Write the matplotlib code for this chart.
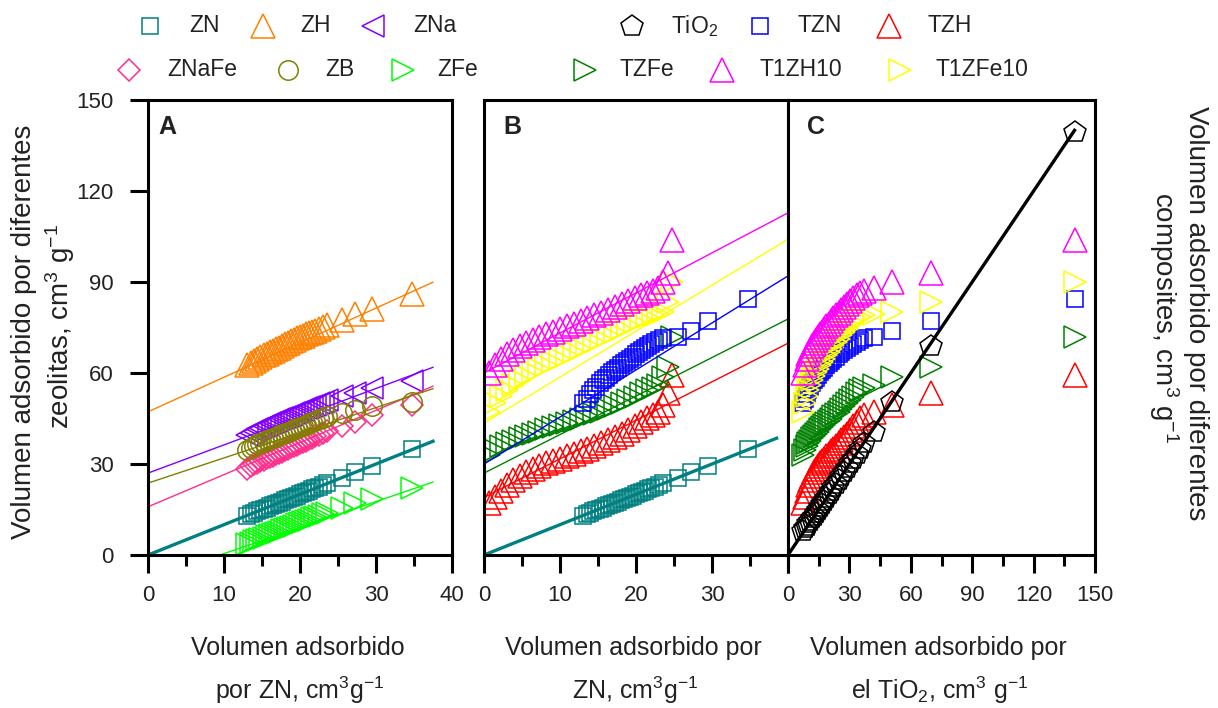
import numpy as np
import matplotlib.pyplot as plt
from matplotlib.lines import Line2D
from matplotlib.ticker import MultipleLocator

plt.rcParams['font.family'] = ['Liberation Sans', 'DejaVu Sans']
plt.rcParams['mathtext.fontset'] = 'custom'
plt.rcParams['mathtext.rm'] = 'Liberation Sans'
plt.rcParams['mathtext.it'] = 'Liberation Sans:italic'
plt.rcParams['mathtext.bf'] = 'Liberation Sans:bold'

# --- panel A: zeolites vs ZN (cm3/g) ---
zn_vol = [13.0, 13.5, 14.0, 14.4, 14.8, 15.2, 15.6, 16.0, 16.4, 16.8,
          17.2, 17.6, 18.0, 18.4, 18.8, 19.2, 19.6, 20.0, 20.4, 20.8,
          21.2, 21.6, 22.0, 22.5, 23.0, 23.6, 25.5, 27.3, 29.5, 34.8]
zh = [62.5, 63.3, 64.1, 64.7, 65.3, 65.9, 66.4, 66.9, 67.4, 67.9,
      68.4, 68.9, 69.4, 69.9, 70.4, 70.9, 71.4, 71.8, 72.3, 72.7,
      73.2, 73.6, 74.0, 74.6, 75.1, 75.7, 77.5, 79.5, 81.0, 86.0]
zna = [39.5, 40.2, 40.9, 41.4, 41.9, 42.4, 42.9, 43.4, 43.8, 44.3,
       44.7, 45.1, 45.5, 45.9, 46.3, 46.7, 47.1, 47.5, 47.9, 48.3,
       48.7, 49.1, 49.5, 50.0, 50.5, 51.0, 52.5, 53.5, 55.0, 57.5]
znafe = [28.5, 29.2, 29.9, 30.4, 30.9, 31.4, 31.9, 32.3, 32.8, 33.2,
         33.7, 34.1, 34.6, 35.0, 35.5, 35.9, 36.4, 36.8, 37.3, 37.7,
         38.2, 38.6, 39.1, 39.6, 40.2, 40.8, 42.5, 44.0, 46.0, 49.5]
zb = [34.5, 35.3, 36.0, 36.5, 37.0, 37.4, 37.8, 38.2, 38.6, 39.0,
      39.4, 39.8, 40.2, 40.6, 41.0, 41.4, 41.8, 42.2, 42.6, 43.0,
      43.4, 43.8, 44.2, 44.7, 45.2, 45.7, 46.8, 47.8, 49.0, 50.5]
zfe = [3.5, 4.0, 4.5, 4.9, 5.3, 5.7, 6.1, 6.5, 6.9, 7.3,
       7.7, 8.1, 8.5, 8.9, 9.3, 9.7, 10.1, 10.5, 10.9, 11.3,
       11.7, 12.1, 12.5, 13.0, 13.5, 14.0, 15.5, 17.0, 18.5, 22.0]

# --- composites: ZN volume at the same pressures (panel B) and TiO2 (panel C) ---
zn_vol_b = [0.6, 1.4, 2.2, 3.0, 3.8, 4.7, 5.5, 6.4, 7.3, 8.2,
            9.1, 10.0, 10.9, 11.8, 12.7, 13.6, 14.5, 15.4, 16.3, 17.2,
            18.1, 19.0, 19.9, 20.7, 21.5, 22.2, 22.9, 23.6, 24.2, 24.8]
tio2_vol = [7.5, 8.3, 9.1, 9.9, 10.8, 11.7, 12.6, 13.5, 14.5, 15.5,
            16.5, 17.6, 18.7, 19.8, 21.0, 22.2, 23.4, 24.7, 26.0, 27.4,
            28.8, 30.3, 31.9, 33.6, 35.4, 37.3, 42.0, 51.0, 70.0, 140.0]
tio2 = [8.0, 8.8, 9.6, 10.4, 11.2, 12.1, 13.0, 13.9, 14.8, 15.8,
        16.8, 17.8, 18.9, 20.0, 21.1, 22.3, 23.5, 24.8, 26.1, 27.4,
        28.8, 30.2, 31.7, 33.3, 35.0, 36.8, 40.5, 50.4, 69.0, 139.5]
tzn = [50.0, 51.5, 53.0, 54.3, 55.5, 56.6, 57.6, 58.5, 59.4, 60.2,
       61.0, 61.8, 62.6, 63.3, 64.0, 64.7, 65.4, 66.1, 66.8, 67.5,
       68.2, 68.9, 69.6, 70.3, 71.0, 71.6, 72.0, 74.0, 77.0, 84.5]
tzh = [17.0, 19.0, 21.0, 23.0, 24.6, 26.0, 27.2, 28.3, 29.3, 30.2,
       31.0, 31.8, 32.6, 33.4, 34.2, 35.0, 35.9, 36.8, 37.8, 38.8,
       39.9, 41.1, 42.4, 43.8, 45.3, 46.2, 47.0, 49.5, 53.4, 59.5]
tzfe = [33.0, 34.6, 35.8, 36.8, 37.7, 38.5, 39.3, 40.0, 40.7, 41.4,
        42.1, 42.8, 43.5, 44.2, 44.9, 45.7, 46.5, 47.3, 48.2, 49.1,
        50.1, 51.1, 52.2, 53.3, 54.4, 55.2, 56.0, 58.7, 62.0, 72.0]
t1zh10 = [60.0, 62.5, 64.5, 66.2, 67.6, 68.8, 69.9, 70.9, 71.8, 72.7,
          73.6, 74.5, 75.4, 76.3, 77.2, 78.1, 79.0, 79.9, 80.8, 81.8,
          82.8, 83.8, 84.8, 85.8, 86.5, 87.0, 88.0, 90.0, 93.0, 104.0]
t1zfe10 = [47.0, 50.0, 52.5, 54.5, 56.2, 57.7, 59.0, 60.2, 61.4, 62.5,
           63.6, 64.7, 65.8, 66.9, 68.0, 69.1, 70.2, 71.3, 72.4, 73.5,
           74.6, 75.7, 76.8, 77.7, 78.4, 79.0, 79.5, 80.0, 83.5, 90.0]

# linear fits (slope, intercept) and the x span they cover
fit_a = {'ZN': (1.0, 0.0), 'ZH': (1.14, 47.2), 'ZNa': (0.93, 27.0),
         'ZNaFe': (1.06, 15.9), 'ZB': (0.83, 23.7), 'ZFe': (0.857, -8.1)}
fit_a_span = [0, 37.5]
fit_b = {'TZN': (1.55, 30.0), 'TZH': (1.27, 19.0), 'TZFe': (1.27, 27.0),
         'T1ZH10': (1.32, 60.0), 'T1ZFe10': (1.515, 43.5)}
fit_b_span = [0, 40]
fit_zn_span = [0, 38.5]
fit_c_span = [0, 140]

styles = {
    'ZN':      dict(color='#008080', marker='s', ms=12),
    'ZH':      dict(color='#FF8000', marker='^', ms=17),
    'ZNa':     dict(color='#8000FF', marker='<', ms=16),
    'ZNaFe':   dict(color='#FF2D8C', marker='D', ms=11),
    'ZB':      dict(color='#808000', marker='o', ms=14),
    'ZFe':     dict(color='#00FF00', marker='>', ms=16),
    'TiO2':    dict(color='black', marker='p', ms=16),
    'TZN':     dict(color='#0000FF', marker='s', ms=12),
    'TZH':     dict(color='#FF0000', marker='^', ms=17),
    'TZFe':    dict(color='#008000', marker='>', ms=16),
    'T1ZH10':  dict(color='#FF00FF', marker='^', ms=17),
    'T1ZFe10': dict(color='#FFFF00', marker='>', ms=16),
}

W, H = 1218, 708
fig = plt.figure(figsize=(W / 100, H / 100), dpi=100)


def box(left, top, right, bottom):
    return [left / W, 1 - bottom / H, (right - left) / W, (bottom - top) / H]


def pts(ax, x, y, name):
    st = styles[name]
    ax.plot(x, y, ls='none', marker=st['marker'], ms=st['ms'], mfc='none',
            mec=st['color'], mew=1.1, clip_on=True)


def fit(ax, span, coef, name, lw=1.0):
    xs = np.linspace(span[0], span[1], 50)
    ax.plot(xs, np.polyval(coef, xs), color=styles[name]['color'], lw=lw)


axA = fig.add_axes(box(148, 100, 452, 555))
axB = fig.add_axes(box(484, 100, 788, 555))
axC = fig.add_axes(box(788, 100, 1095, 555))

for ax in (axA, axB, axC):
    for sp in ax.spines.values():
        sp.set_linewidth(2.2)
    ax.set_ylim(0, 150)
    ax.yaxis.set_major_locator(MultipleLocator(30))
    ax.tick_params(which='major', direction='out', length=13, width=2.2,
                   labelsize=16, pad=8.5, top=False, right=False,
                   labelcolor='#222222')
    ax.tick_params(which='minor', direction='out', length=8, width=2.2,
                   top=False, right=False)
    ax.tick_params(axis='y', pad=11.5)

axA.set_xlim(0, 40)
axB.set_xlim(0, 40)
axC.set_xlim(0, 150)
for ax in (axA, axB):
    ax.xaxis.set_major_locator(MultipleLocator(10))
    ax.xaxis.set_minor_locator(MultipleLocator(5))
axC.xaxis.set_major_locator(MultipleLocator(30))
axC.xaxis.set_minor_locator(MultipleLocator(15))
axB.set_xticks([0, 10, 20, 30, 40], ['0', '10', '20', '30', ''])
for ax in (axB, axC):
    ax.tick_params(axis='y', left=False, labelleft=False)

# panel A
zeolites = {'ZH': zh, 'ZNa': zna, 'ZNaFe': znafe, 'ZB': zb, 'ZFe': zfe}
for name, ys in zeolites.items():
    fit(axA, fit_a_span, fit_a[name], name)
    pts(axA, zn_vol, ys, name)
pts(axA, zn_vol, zn_vol, 'ZN')
fit(axA, fit_a_span, fit_a['ZN'], 'ZN', lw=2.4)

# panel B
composites = {'TZH': tzh, 'TZFe': tzfe, 'T1ZFe10': t1zfe10, 'T1ZH10': t1zh10}
for name, ys in composites.items():
    fit(axB, fit_b_span, fit_b[name], name)
    pts(axB, zn_vol_b, ys, name)
fit(axB, fit_b_span, fit_b['TZN'], 'TZN')
pts(axB, zn_vol, tzn, 'TZN')
pts(axB, zn_vol, zn_vol, 'ZN')
fit(axB, fit_zn_span, fit_a['ZN'], 'ZN', lw=2.4)

# panel C
for name, ys in [('TZH', tzh), ('TZFe', tzfe), ('TZN', tzn),
                 ('T1ZFe10', t1zfe10), ('T1ZH10', t1zh10)]:
    pts(axC, tio2_vol, ys, name)
pts(axC, tio2_vol, tio2, 'TiO2')
fit(axC, fit_c_span, (1.0, 0.0), 'TiO2', lw=2.4)

for ax, letter, px in ((axA, 'A', 158), (axB, 'B', 503), (axC, 'C', 807)):
    fig.text(px / W, 1 - 127 / H, letter, fontsize=18, fontweight='bold',
             ha='left', va='center', color='#222222')

# legends
legend_rows = [
    [('ZN', 150, 189), ('ZH', 263, 300), ('ZNa', 373, 413)],
    [('ZNaFe', 129, 167), ('ZB', 288, 325), ('ZFe', 403, 437)],
    [('TiO2', 632, 671), ('TZN', 760, 797), ('TZH', 889, 927)],
    [('TZFe', 585, 620), ('T1ZH10', 722, 760), ('T1ZFe10', 900, 935)],
]
row_y = [26, 70, 26, 70]
labels = {'TiO2': r'TiO$_{2}$'}
for row, yy in zip(legend_rows, row_y):
    for name, mx, tx in row:
        st = styles[name]
        fig.add_artist(Line2D([mx / W], [1 - yy / H], transform=fig.transFigure,
                              ls='none', marker=st['marker'], ms=st['ms'],
                              mfc='none', mec=st['color'], mew=1.1))
        fig.text(tx / W, 1 - yy / H, labels.get(name, name), fontsize=16.5,
                 ha='left', va='center', color='#222222')

# axis titles
xlab = [
    ('Volumen adsorbido', 298, 648),
    (r'por ZN, cm$^{3}$g$^{-1}$', 300, 690),
    ('Volumen adsorbido por', 633, 648),
    (r'ZN, cm$^{3}$g$^{-1}$', 635, 690),
    ('Volumen adsorbido por', 938, 648),
    (r'el TiO$_{2}$, cm$^{3}$ g$^{-1}$', 940, 690),
]
for txt, px, py in xlab:
    fig.text(px / W, 1 - py / H, txt, fontsize=18, ha='center', va='center',
             color='#222222')

fig.text(24 / W, 1 - 332 / H, 'Volumen adsorbido por diferentes', fontsize=20,
         rotation=90, ha='center', va='center', color='#222222')
fig.text(60 / W, 1 - 327 / H, r'zeolitas, cm$^{3}$ g$^{-1}$', fontsize=20,
         rotation=90, ha='center', va='center', color='#222222')
fig.text(1196 / W, 1 - 313 / H, 'Volumen adsorbido por diferentes', fontsize=20,
         rotation=-90, ha='center', va='center', color='#222222')
fig.text(1164 / W, 1 - 318 / H, r'composites, cm$^{3}$ g$^{-1}$', fontsize=20,
         rotation=-90, ha='center', va='center', color='#222222')

fig.savefig('out.png', dpi=100)
